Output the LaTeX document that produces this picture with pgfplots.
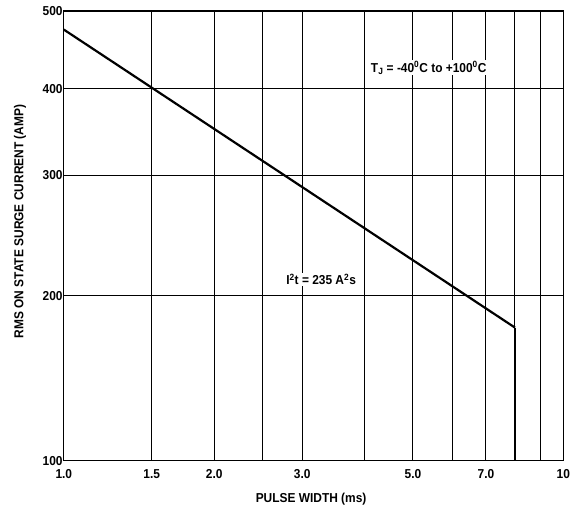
\documentclass[border=0pt]{standalone}
\usepackage{pgfplots}
\pgfplotsset{compat=1.18}
\usepackage{fontspec}
\setmainfont{Liberation Sans}[FakeStretch=0.92]

\begin{document}
\begin{tikzpicture}
\begin{axis}[
  scale only axis,
  width=501pt, height=451pt,
  xmode=log,
  xmin=1, xmax=10,
  % the scanned y scale is not a true log scale: map amps to height piecewise
  y coord trafo/.code={\pgfmathparse{#1<200 ? 165.3*ln(#1/100)/ln(2) : (#1<300 ? 165.3+120.7*ln(#1/200)/ln(1.5) : (#1<400 ? 286+87*ln(#1/300)/ln(4/3) : 373+78*ln(#1/400)/ln(1.25)))}},
  ymin=100, ymax=500,
  xtick={1,1.5,2,3,5,7,10},
  xticklabels={1.0,1.5,2.0,3.0,5.0,7.0,10},
  minor xtick={2.5,4,6,8,9},
  ytick={100,200,300,400,500},
  yticklabels={100,200,300,400,500},
  log ticks with fixed point,
  tick style={draw=none},
  grid=both,
  major grid style={black, line width=1pt},
  minor grid style={black, line width=1pt},
  axis line style={black, line width=1.3pt},
  ticklabel style={font=\fontsize{13}{14}\selectfont\bfseries},
  yticklabel style={inner sep=1pt},
  xticklabel style={inner sep=2pt, yshift=-7pt},
  /pgf/number format/assume math mode=true,
  xlabel={PULSE WIDTH (ms)},
  ylabel={RMS ON STATE SURGE CURRENT (AMP)},
  label style={font=\fontsize{13}{14}\selectfont\bfseries},
  xlabel style={at={(rel axis cs:0.495,0)}, anchor=center, yshift=-39pt},
  ylabel style={at={(rel axis cs:0,0.532)}, anchor=center, yshift=44pt},
]
\addplot[black, line width=2.2pt, no marks] coordinates {(1,474) (8,175)};
\addplot[black, line width=1.3pt, no marks] coordinates {(8,175) (8,100)};
\node[fill=white, inner sep=1pt, font=\fontsize{13}{14}\selectfont\bfseries]
  at (rel axis cs:0.7305,0.8736) {T\textsubscript{J} = -40\textsuperscript{0}C to +100\textsuperscript{0}C};
\node[fill=white, inner sep=1pt, font=\fontsize{13}{14}\selectfont\bfseries]
  at (rel axis cs:0.515,0.4035) {I\textsuperscript{2}t = 235 A\textsuperscript{2}s};
\end{axis}
\path (current axis.south west) +(-64pt,-53pt);
\path (current axis.north east) +(7pt,11pt);
\end{tikzpicture}
\end{document}
